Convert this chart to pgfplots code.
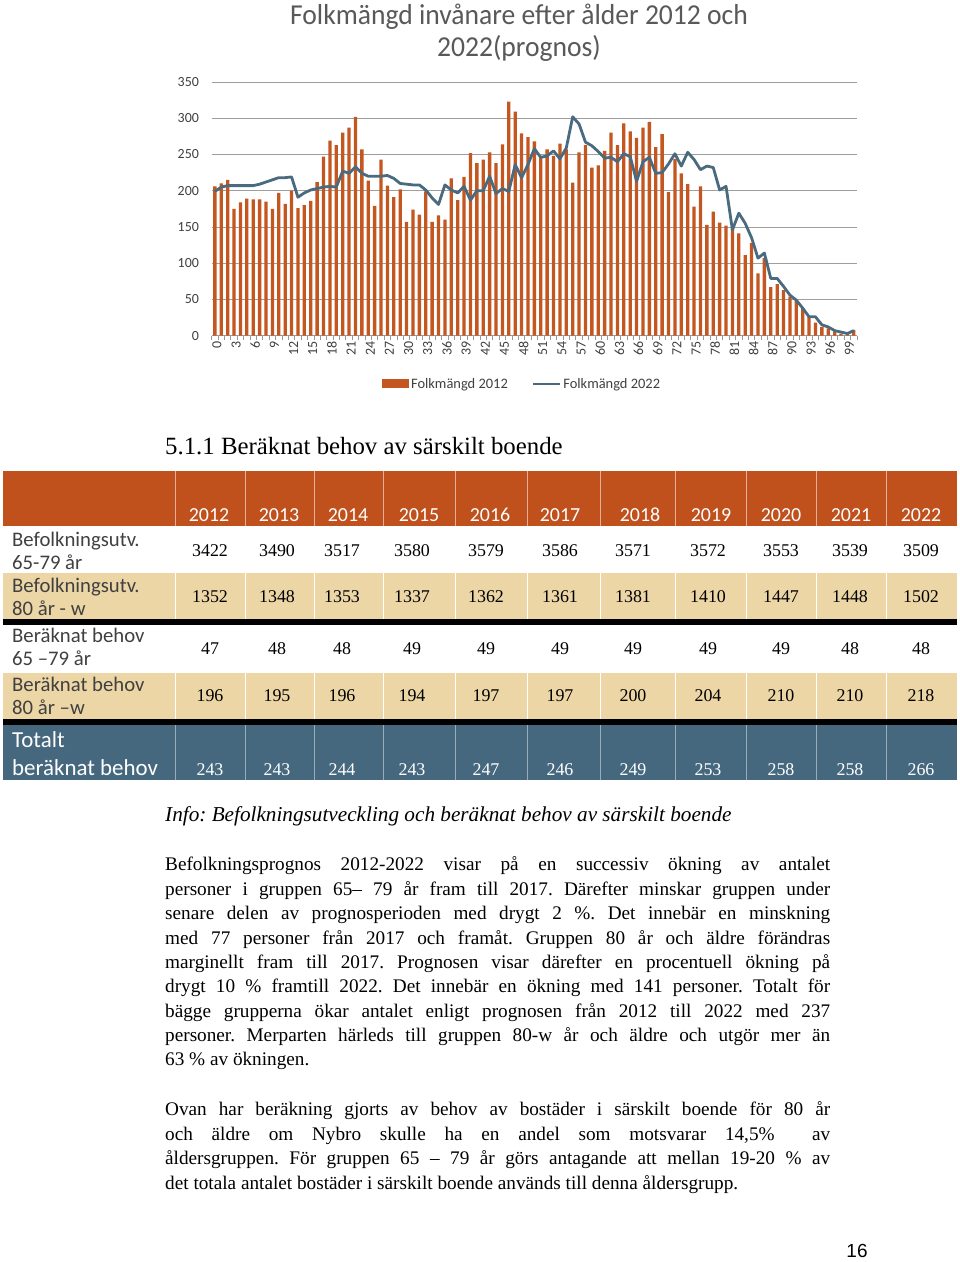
\documentclass[border=0pt]{standalone}
\usepackage{pgfplots}
\pgfplotsset{compat=1.18}
\usepackage{fontspec}
\usepackage{graphicx}
\setmainfont{Liberation Serif}
\newfontfamily\calfont{Carlito}
\newfontfamily\arsfont{Liberation Sans}
\definecolor{hdr}{RGB}{192,80,28}
\definecolor{tan}{RGB}{236,214,166}
\definecolor{tblue}{RGB}{69,104,126}
\definecolor{barc}{RGB}{196,86,32}
\definecolor{linec}{RGB}{74,106,128}
\definecolor{tgray}{RGB}{64,64,64}
\definecolor{ttl}{RGB}{89,89,89}
\frenchspacing

\pgfplotstableread{
age y2012 y2022
0 206 199
1 210 205
2 215 207
3 175 207
4 184 207
5 189 207
6 188 207
7 188 209
8 185 212
9 175 215
10 197 218
11 182 218
12 200 219
13 176 191
14 180 197
15 186 201
16 212 203
17 247 205
18 269 206
19 263 205
20 280 227
21 287 224
22 302 233
23 257 224
24 214 220
25 179 220
26 243 220
27 207 221
28 191 217
29 202 210
30 157 209
31 174 208
32 167 208
33 199 201
34 157 190
35 166 181
36 160 208
37 217 201
38 187 197
39 219 206
40 252 187
41 238 200
42 243 200
43 253 220
44 238 196
45 264 203
46 323 199
47 309 236
48 279 218
49 274 236
50 268 258
51 247 246
52 257 248
53 248 255
54 265 244
55 257 259
56 211 302
57 253 292
58 263 267
59 232 262
60 235 254
61 255 245
62 280 246
63 263 240
64 293 251
65 282 247
66 273 213
67 287 240
68 295 246
69 260 224
70 278 225
71 198 237
72 244 251
73 224 234
74 209 253
75 178 243
76 206 229
77 153 234
78 171 232
79 156 201
80 152 206
81 148 146
82 141 169
83 111 155
84 128 135
85 86 107
86 107 114
87 67 79
88 71 79
89 63 68
90 54 56
91 48 49
92 38 38
93 26 26
94 18 26
95 12 15
96 10 12
97 6 7
98 3 5
99 3 3
100 8 7
}\folk

\begin{document}
\begin{tikzpicture}[x=1bp,y=1bp]
\useasboundingbox (0,0) rectangle (960,1262);
\fill[white] (0,0) rectangle (960,1262);

% chart title
\node[anchor=base, inner sep=0, text=ttl] at (519,{1262-25}) {\calfont\fontsize{29}{30}\selectfont\scalebox{0.955}[1]{Folkmängd invånare efter ålder 2012 och}};
\node[anchor=base, inner sep=0, text=ttl] at (519,{1262-57}) {\calfont\fontsize{29}{30}\selectfont\scalebox{0.955}[1]{2022(prognos)}};

\begin{axis}[
  at={(211.7bp,926.3bp)}, anchor=south west,
  scale only axis, width=645.3bp, height=253.7bp,
  xmin=-0.5, xmax=100.5, ymin=0, ymax=350,
  ytick={0,50,...,350},
  /pgf/number format/assume math mode=true,
  ymajorgrids, grid style={draw=black!38, line width=0.9bp},
  axis x line*=bottom, axis y line*=left,
  y axis line style={draw=none},
  x axis line style={draw=black!40, line width=0.9bp},
  ytick style={draw=none},
  xtick={0,3,...,99},
  major x tick style={draw=none},
  minor xtick={-0.5,0.5,...,100.5},
  minor x tick style={draw=black!40, line width=0.8bp},
  minor tick length=4bp,
  tick align=outside,
  ticklabel style={font=\calfont\fontsize{14}{15}\selectfont, text=tgray},
  yticklabel style={xshift=-5bp},
  xticklabel style={rotate=90, anchor=east, yshift=-2bp, inner sep=1bp},
  legend style={at={(0.481,-0.19)}, anchor=center, draw=none, fill=none,
    legend columns=2, font=\calfont\fontsize{14.5}{15}\selectfont, text=tgray,
    /tikz/every even column/.append style={column sep=22bp}},
]
\addplot[ybar, bar width=3.3bp, bar shift=0pt, fill=barc, draw=none,
  legend image code/.code={\fill[barc] (0bp,-4.5bp) rectangle (27bp,5bp);}]
  table[x=age, y=y2012] {\folk};
\addlegendentry{Folkmängd 2012}
\addplot[draw=linec, line width=2.8bp, no markers, line join=round,
  legend image code/.code={\draw[linec, line width=2.5bp] (0bp,0bp) -- (27bp,0bp);}]
  table[x=age, y=y2022] {\folk};
\addlegendentry{Folkmängd 2022}
\end{axis}

% heading
\node[anchor=base west, inner sep=0] at (165,{1262-455}) {\fontsize{24.9}{27}\selectfont 5.1.1 Beräknat behov av särskilt boende};

% table backgrounds
\fill[hdr] (3,{1262-471}) rectangle (957,{1262-526});
\fill[tan] (3,{1262-573}) rectangle (957,{1262-619});
\fill[black] (3,{1262-619}) rectangle (957,{1262-625});
\fill[tan] (3,{1262-673}) rectangle (957,{1262-719});
\fill[black] (3,{1262-719}) rectangle (957,{1262-725});
\fill[tblue] (3,{1262-725}) rectangle (957,{1262-780});
\foreach \c in {175,245,314,383,455,527,600,675,746,816,886}{
  \draw[white!55!hdr, line width=1bp] (\c,{1262-471}) -- (\c,{1262-526});
  \draw[white, line width=1bp] (\c,{1262-573}) -- (\c,{1262-619});
  \draw[white, line width=1bp] (\c,{1262-673}) -- (\c,{1262-719});
  \draw[white!45!tblue, line width=1bp] (\c,{1262-725}) -- (\c,{1262-780});
}
% header years
\foreach \x/\t in {209/2012,279/2013,348/2014,419/2015,490/2016,560/2017,640/2018,711/2019,781/2020,851/2021,921/2022}{
  \node[anchor=base, inner sep=0, text=white] at (\x,{1262-522}) {\calfont\fontsize{20}{22}\selectfont\t};
}
% left labels
\newcommand\lab[2]{\node[anchor=base west, inner sep=0, text=tgray] at (12,{1262-#1}) {\calfont\fontsize{20.8}{22}\selectfont #2};}
\lab{547}{Befolkningsutv.}
\lab{570}{65-79 år}
\lab{593}{Befolkningsutv.}
\lab{616}{80 år - w}
\lab{643}{Beräknat behov}
\lab{666}{65 –79 år}
\lab{692}{Beräknat behov}
\lab{715}{80 år –w}
\node[anchor=base west, inner sep=0, text=white] at (12,{1262-748}) {\calfont\fontsize{23}{25}\selectfont Totalt};
\node[anchor=base west, inner sep=0, text=white] at (12,{1262-776}) {\calfont\fontsize{23}{25}\selectfont beräknat behov};

% numbers
\foreach \x/\a/\b/\c/\d/\e in {
  210/3422/1352/47/196/243,
  277/3490/1348/48/195/243,
  342/3517/1353/48/196/244,
  412/3580/1337/49/194/243,
  486/3579/1362/49/197/247,
  560/3586/1361/49/197/246,
  633/3571/1381/49/200/249,
  708/3572/1410/49/204/253,
  781/3553/1447/49/210/258,
  850/3539/1448/48/210/258,
  921/3509/1502/48/218/266}{
  \node[anchor=base, inner sep=0] at (\x,{1262-557}) {\fontsize{18}{20}\selectfont\a};
  \node[anchor=base, inner sep=0] at (\x,{1262-603}) {\fontsize{18}{20}\selectfont\b};
  \node[anchor=base, inner sep=0] at (\x,{1262-655}) {\fontsize{18}{20}\selectfont\c};
  \node[anchor=base, inner sep=0] at (\x,{1262-702}) {\fontsize{18}{20}\selectfont\d};
  \node[anchor=base, inner sep=0, text=white] at (\x,{1262-776}) {\fontsize{18}{20}\selectfont\e};
}

% info line
\node[anchor=base west, inner sep=0] at (165,{1262-822}) {\fontsize{21.3}{24}\selectfont\itshape Info: Befolkningsutveckling och beräknat behov av särskilt boende};

% paragraph 1
\node[anchor=base west, inner sep=0] at (165,{1262-871}) {\parbox[t]{665bp}{\fontsize{19.3}{24.45}\selectfont\emergencystretch=2em
Befolkningsprognos 2012-2022 visar på en successiv ökning av antalet\linebreak
personer i gruppen 65– 79 år fram till 2017. Därefter minskar gruppen under\linebreak
senare delen av prognosperioden med drygt 2 \%. Det innebär en minskning\linebreak
med 77 personer från 2017 och framåt. Gruppen 80 år och äldre förändras\linebreak
marginellt fram till 2017. Prognosen visar därefter en procentuell ökning på\linebreak
drygt 10 \% framtill 2022. Det innebär en ökning med 141 personer. Totalt för\linebreak
bägge grupperna ökar antalet enligt prognosen från 2012 till 2022 med 237\linebreak
personer. Merparten härleds till gruppen 80-w år och äldre och utgör mer än\linebreak
63 \% av ökningen.}};

% paragraph 2
\node[anchor=base west, inner sep=0] at (165,{1262-1116}) {\parbox[t]{665bp}{\fontsize{19.3}{24.45}\selectfont\emergencystretch=2em
Ovan har beräkning gjorts av behov av bostäder i särskilt boende för 80 år\linebreak
och äldre om Nybro skulle ha en andel som motsvarar 14,5\%\ \ av\linebreak
åldersgruppen. För gruppen 65 – 79 år görs antagande att mellan 19-20 \% av\linebreak
det totala antalet bostäder i särskilt boende används till denna åldersgrupp.}};

% page number
\node[anchor=base, inner sep=0] at (857,{1262-1258}) {\arsfont\fontsize{19}{20}\selectfont 16};
\end{tikzpicture}
\end{document}
